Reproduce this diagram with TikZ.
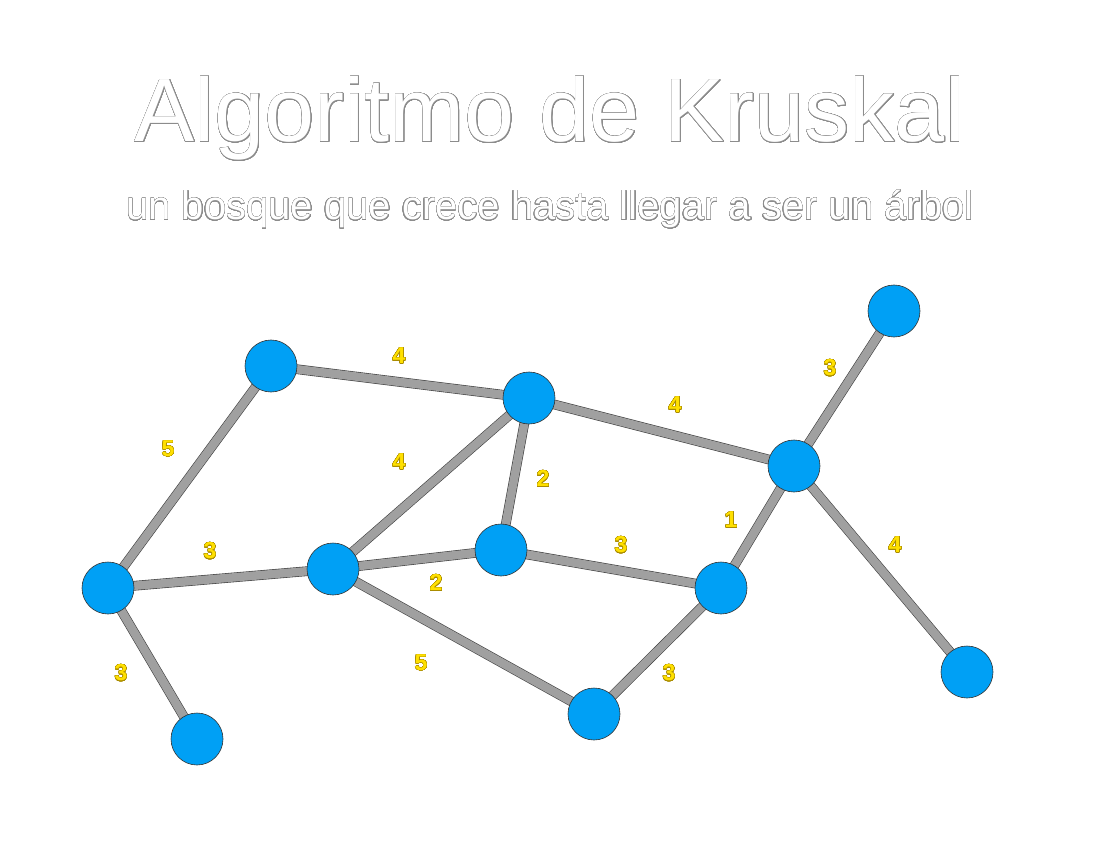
\documentclass[tikz,border=0pt]{standalone}
\usepackage{fontspec}
\setmainfont{Liberation Sans}
\usepackage{contour}
\contournumber{32}
\usetikzlibrary{backgrounds}

\definecolor{nodeblue}{RGB}{0,160,245}
\definecolor{edgegray}{RGB}{160,160,160}
\definecolor{wyellow}{RGB}{255,224,0}
\definecolor{wbrown}{RGB}{170,140,0}

\newcommand{\weight}[1]{\contourlength{0.35pt}\contour{wbrown}{\textcolor{wyellow}{#1}}}

\begin{document}
\begin{tikzpicture}[x=1pt, y=-1pt,
    vertex/.style={circle, fill=nodeblue, draw=black!80, line width=0.6pt,
      minimum size=52pt, inner sep=0pt},
    edge/.style={draw=black!75, line width=0.6pt, double=edgegray,
      double distance=8.5pt},
    wlabel/.style={font=\fontsize{23}{23}\selectfont\bfseries}]
      \useasboundingbox (0,0) rectangle (1100,850);

      % titulo
      \node (title) [anchor=base, font=\fontsize{90}{90}\selectfont] at (550,142)
        {\contourlength{0.45pt}\contour{black!45}{\textcolor{white}{Algoritmo de Kruskal}}};
      \node (subtitle) [anchor=base, font=\fontsize{40}{40}\selectfont] at (550,220)
        {\contourlength{0.35pt}\contour{black!45}{\textcolor{white}{un bosque que crece hasta llegar a ser un árbol}}};

      % vertices
      \node [vertex] (a) at (271,366) {};
      \node [vertex] (b) at (529,398) {};
      \node [vertex] (c) at (894,311) {};
      \node [vertex] (d) at (794,466) {};
      \node [vertex] (e) at (108,588) {};
      \node [vertex] (f) at (333,569) {};
      \node [vertex] (g) at (501,550) {};
      \node [vertex] (h) at (721,588) {};
      \node [vertex] (i) at (967,672) {};
      \node [vertex] (j) at (594,714) {};
      \node [vertex] (k) at (197,739) {};

      % aristas
      \begin{scope}[on background layer]
        \fill [white] (0,0) rectangle (1100,850);
        \draw [edge] (a.center) -- (b.center);
        \draw [edge] (b.center) -- (d.center);
        \draw [edge] (c.center) -- (d.center);
        \draw [edge] (d.center) -- (h.center);
        \draw [edge] (d.center) -- (i.center);
        \draw [edge] (a.center) -- (e.center);
        \draw [edge] (b.center) -- (f.center);
        \draw [edge] (b.center) -- (g.center);
        \draw [edge] (f.center) -- (g.center);
        \draw [edge] (g.center) -- (h.center);
        \draw [edge] (e.center) -- (f.center);
        \draw [edge] (f.center) -- (j.center);
        \draw [edge] (j.center) -- (h.center);
        \draw [edge] (e.center) -- (k.center);
      \end{scope}

      % pesos
      \node [wlabel] (wab) at (399,356) {\weight{4}};
      \node [wlabel] (wbd) at (675,405) {\weight{4}};
      \node [wlabel] (wcd) at (830,368) {\weight{3}};
      \node [wlabel] (wae) at (168,449) {\weight{5}};
      \node [wlabel] (wbf) at (399,462) {\weight{4}};
      \node [wlabel] (wbg) at (543,479) {\weight{2}};
      \node [wlabel] (wdh) at (731,520) {\weight{1}};
      \node [wlabel] (wdi) at (895,545) {\weight{4}};
      \node [wlabel] (wef) at (210,551) {\weight{3}};
      \node [wlabel] (wgh) at (621,545) {\weight{3}};
      \node [wlabel] (wfg) at (436,583) {\weight{2}};
      \node [wlabel] (wfj) at (421,663) {\weight{5}};
      \node [wlabel] (wjh) at (669,673) {\weight{3}};
      \node [wlabel] (wek) at (121,673) {\weight{3}};
    \end{tikzpicture}
\end{document}
